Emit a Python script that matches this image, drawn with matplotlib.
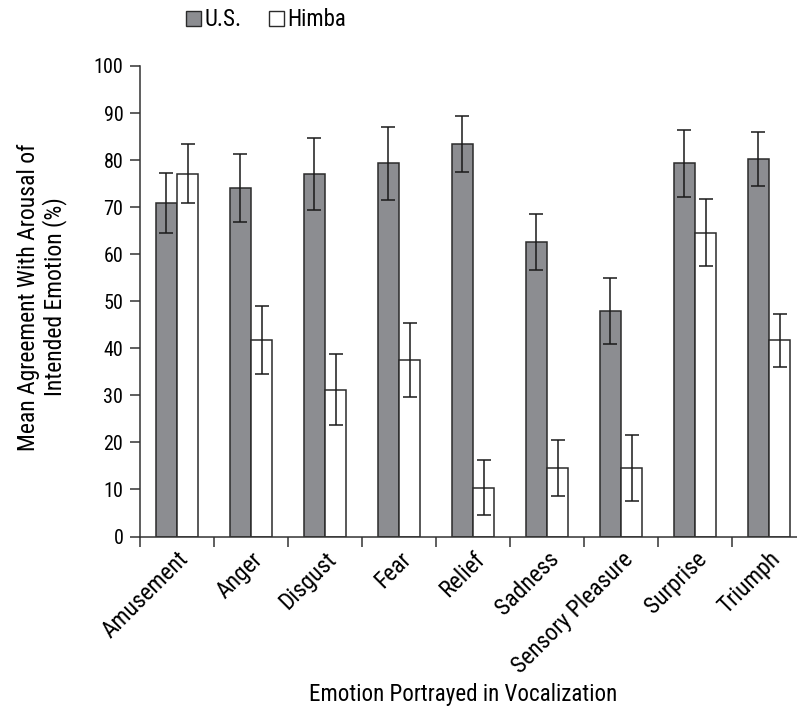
import numpy as np
import matplotlib
matplotlib.use("Agg")
import matplotlib.pyplot as plt
from matplotlib.patches import Patch
from matplotlib.transforms import ScaledTranslation

plt.rcParams['font.family'] = ['Roboto Condensed', 'Liberation Sans Narrow', 'Roboto', 'DejaVu Sans']
plt.rcParams['font.stretch'] = 'condensed'

emotions = ["Amusement", "Anger", "Disgust", "Fear", "Relief", "Sadness",
            "Sensory Pleasure", "Surprise", "Triumph"]
us_mean = [70.9, 74.1, 77.1, 79.3, 83.4, 62.6, 48.0, 79.3, 80.3]
us_err = [6.4, 7.2, 7.6, 7.7, 5.9, 5.95, 7.0, 7.2, 5.7]
himba_mean = [77.1, 41.7, 31.2, 37.5, 10.4, 14.6, 14.6, 64.6, 41.7]
himba_err = [6.3, 7.2, 7.6, 7.8, 5.85, 6.0, 7.0, 7.2, 5.6]

W, H = 797, 707
fig = plt.figure(figsize=(W / 100, H / 100), dpi=100)
ax = fig.add_axes([140 / W, (H - 536.5) / H, 666 / W, 470.5 / H])

x = np.arange(len(emotions))
w = 0.285
edge = "#2b2b2b"
err_kw = dict(ecolor="#1a1a1a", elinewidth=1.1, capsize=5, capthick=1.1)

ax.bar(x - w / 2, us_mean, w, color="#8c8d91", edgecolor=edge, linewidth=1.1,
       yerr=us_err, error_kw=err_kw, zorder=2)
ax.bar(x + w / 2, himba_mean, w, color="white", edgecolor=edge, linewidth=1.1,
       yerr=himba_err, error_kw=err_kw, zorder=2)

ax.set_xlim(-0.5, len(emotions) - 0.5)
ax.set_ylim(0, 100)
ax.set_yticks(np.arange(0, 101, 10))
ax.set_xticks(x)
ax.set_xticklabels(emotions, rotation=45, ha="right", rotation_mode="anchor",
                   fontsize=17)
# nudge the rotated category names up-left so their ends sit on the group centres
shift = ScaledTranslation(-6 / 100, 6 / 100, fig.dpi_scale_trans)
for lab in ax.get_xticklabels():
    lab.set_transform(lab.get_transform() + shift)
ax.set_xticks(np.arange(-0.5, len(emotions), 1), minor=True)
ax.tick_params(axis="x", which="major", length=0, pad=8)
ax.tick_params(axis="x", which="minor", length=7, width=1.1, color="#333333",
               direction="out")
ax.tick_params(axis="y", length=7, width=1.1, color="#333333", labelsize=14.5,
               pad=5)

for side in ("top", "right"):
    ax.spines[side].set_visible(False)
for side in ("left", "bottom"):
    ax.spines[side].set_linewidth(1.1)
    ax.spines[side].set_color("#333333")

ax.set_ylabel("Mean Agreement With Arousal of\nIntended Emotion (%)",
              fontsize=17, linespacing=1.15, va="center", ha="center")
ax.yaxis.set_label_coords((42 - 140) / 666, (536.5 - 297) / 470.5)
ax.set_xlabel("Emotion Portrayed in Vocalization", fontsize=16.6,
              va="baseline", ha="center")
ax.xaxis.set_label_coords((463 - 140) / 666, (536.5 - 701) / 470.5)

handles = [Patch(facecolor="#8c8d91", edgecolor=edge, linewidth=1.0, label="U.S."),
           Patch(facecolor="white", edgecolor=edge, linewidth=1.0, label="Himba")]
fig.legend(handles=handles, loc="center", bbox_to_anchor=(266 / W, 1 - 20 / H), ncol=2,
           frameon=False, fontsize=16.5, handlelength=0.65, handleheight=0.65,
           handletextpad=0.15, columnspacing=1.2, borderpad=0)

fig.savefig("out.png", dpi=100)
